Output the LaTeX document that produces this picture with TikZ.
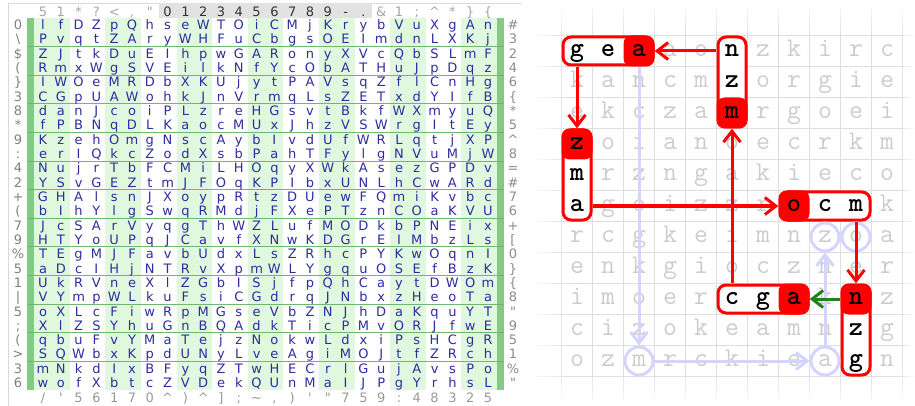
\documentclass[tikz,border=0pt]{standalone}
\usepackage{fontspec}
\newfontfamily\cipherfont{DejaVu Sans}
\usetikzlibrary{arrows.meta,fadings}

\definecolor{cipherink}{RGB}{45,45,160}
\definecolor{stripe}{RGB}{224,248,222}
\definecolor{edgebar}{RGB}{132,202,132}
\definecolor{rowrule}{RGB}{112,184,112}
\definecolor{keyband}{RGB}{226,226,226}
\definecolor{trail}{RGB}{212,212,255}
\definecolor{gridgrey}{RGB}{222,222,222}
\definecolor{dimgrey}{RGB}{204,204,204}
\definecolor{linkgreen}{RGB}{30,130,30}

\tikzfading[name=edgeL, left color=transparent!0, right color=transparent!100]
\tikzfading[name=edgeR, left color=transparent!100, right color=transparent!0]
\tikzfading[name=edgeT, top color=transparent!0, bottom color=transparent!100]
\tikzfading[name=edgeB, top color=transparent!100, bottom color=transparent!0]

\tikzset{
  glyph/.style={font=\cipherfont\fontsize{13}{13}\selectfont, text=cipherink,
    inner sep=0pt, text height=11.2pt, text depth=2pt},
  sidelabel/.style={glyph, text=black!50},
  keymark/.style={glyph, text=black!80},
  dimletter/.style={font=\ttfamily\fontsize{27}{27}\selectfont, text=dimgrey,
    inner sep=0pt, text height=16.5pt, text depth=5pt},
  word/.style={draw=red, line width=3pt, fill=white, rounded corners=8pt},
  cell/.style={font=\ttfamily\bfseries\fontsize{27}{27}\selectfont, inner sep=0pt,
    minimum size=31pt, text height=16.5pt, text depth=5pt},
  hit/.style={cell, fill=red, rounded corners=8pt},
  hop/.style={draw=red, line width=3pt, -{Straight Barb[length=11pt,width=17pt]}},
  ring/.style={circle, draw=trail, line width=3pt, minimum size=28pt, inner sep=0pt},
  trailhop/.style={draw=trail, line width=3pt, -{Straight Barb[length=11pt,width=17pt]}}
}

\begin{document}
\begin{tikzpicture}[x=1pt,y=-1pt]
\useasboundingbox (0,0) rectangle (915,406);

% cipher sheet
\draw[black!15] (8,406) -- (8,3) -- (522,3);
\fill[keyband] (159,3.5) rectangle (372,18.5);
\foreach \p in {0,2,...,12}
  \fill[stripe] ({34.1+35.6*\p},18) rectangle ({69.7+35.6*\p},390);
\fill[edgebar] (27,18) rectangle (34.1,390);
\fill[edgebar] (496.9,18) rectangle (504,390);
\foreach \k in {0,...,11}
  \draw[rowrule, line width=1pt] (27,{25+14.32*(2*\k+1.5)}) -- (504,{25+14.32*(2*\k+1.5)});

\foreach \keych [count=\j from 0] in {5,1,*,?,<,{,},\textquotedbl}
  \node[sidelabel, text=black!35] (top\j) at ({43+17.8*\j},12) {\keych};
\foreach \keych [count=\j from 7] in {0,1,2,3,4,5,6,7,8,9,-,{.}}
  \node[keymark] (top\j) at ({43+17.8*\j},12) {\keych};
\foreach \keych [count=\j from 19] in {\&,1,;,\textasciicircum,*,\},\{}
  \node[sidelabel, text=black!35] (top\j) at ({43+17.8*\j},12) {\keych};

\foreach \keych [count=\i from 0] in {0,\textbackslash,\$,{(},\},3,8,*,9,:,4,2,+,{(},7,9,\%,5,1,\textbar,5,;,{(},>,3,6}
  \node[sidelabel] (lft\i) at (18,{25+14.32*\i}) {\keych};
\foreach \keych [count=\i from 0] in {\#,3,2,4,6,\{,*,5,\textasciicircum,8,=,\#,7,6,+,{[},0,\},\{,8,\textquotedbl,9,5,1,\%,\textquotedbl}
  \node[sidelabel, text=black!45] (rgt\i) at (513,{25+14.32*\i}) {\keych};
\foreach \keych [count=\j from 0] in {{/},\textquotesingle,5,6,1,7,0,\textasciicircum,{)},\textasciicircum,{]},;,\textasciitilde,{,},{)},\textquotesingle,\textquotedbl,7,5,9,:,4,8,3,2,5}
  \node[sidelabel, text=black!40] (bot\j) at ({43+17.8*\j},398) {\keych};

\foreach \rowtext [count=\i from 0] in {
  {l,f,D,Z,p,Q,h,s,e,W,T,O,i,C,M,j,K,r,y,b,V,u,X,g,A,n},
  {P,v,q,t,Z,A,r,y,W,H,F,u,C,b,g,s,O,E,I,m,d,n,L,X,K,j},
  {Z,J,t,k,D,u,E,I,h,p,w,G,A,R,o,n,y,X,V,c,Q,b,S,L,m,F},
  {R,m,x,W,g,S,V,E,i,l,k,N,f,Y,c,O,b,A,T,H,u,J,p,D,q,z},
  {I,W,O,e,M,R,D,b,X,K,U,j,y,t,P,A,V,s,q,Z,f,l,C,n,H,g},
  {C,G,p,U,A,W,o,h,k,J,n,V,r,m,q,L,s,Z,E,T,x,d,Y,I,f,B},
  {d,a,n,J,c,o,i,P,L,z,r,e,H,G,s,v,t,B,k,f,W,X,m,y,u,Q},
  {f,P,B,N,q,D,L,K,a,o,c,M,U,x,J,h,z,V,S,W,r,g,I,t,E,y},
  {K,z,e,h,O,m,g,N,s,c,A,y,b,I,v,d,U,f,W,R,L,q,t,j,X,P},
  {e,r,I,Q,k,c,Z,o,d,X,s,b,P,a,h,T,F,y,l,g,N,V,u,M,j,W},
  {N,u,j,r,T,b,F,C,M,i,L,H,O,q,y,X,W,k,A,s,e,z,G,P,D,v},
  {Y,S,v,G,E,Z,t,m,J,F,O,q,K,P,I,b,x,U,N,L,h,C,w,A,R,d},
  {G,H,A,l,s,n,J,X,o,y,p,R,t,z,D,U,e,w,F,Q,m,i,K,v,b,c},
  {b,I,h,Y,l,g,S,w,q,R,M,d,j,F,X,e,P,T,z,n,C,O,a,K,V,U},
  {J,c,S,A,r,V,y,q,g,T,h,W,Z,L,u,f,M,O,D,k,b,P,N,E,i,x},
  {H,T,Y,o,U,P,q,J,C,a,v,f,X,N,w,K,D,G,r,E,I,M,b,z,L,s},
  {T,E,g,M,J,F,a,v,b,U,d,x,L,s,Z,R,h,c,P,Y,K,w,O,q,n,I},
  {a,D,c,I,H,j,N,T,R,v,X,p,m,W,L,Y,g,q,u,O,S,E,f,B,z,K},
  {U,k,R,V,n,e,X,l,Z,G,b,I,S,j,f,p,Q,h,C,a,y,t,D,W,O,m},
  {V,Y,m,p,W,L,k,u,F,s,i,C,G,d,r,q,J,N,b,x,z,H,e,o,T,a},
  {o,X,L,c,F,i,w,R,p,M,G,s,e,V,b,Z,N,J,h,D,a,K,q,u,Y,T},
  {X,l,Z,S,Y,h,u,G,n,B,Q,A,d,k,T,i,c,P,M,v,O,R,J,f,w,E},
  {q,b,u,F,v,Y,M,a,T,e,j,z,N,o,k,w,L,d,x,i,P,s,H,C,g,R},
  {S,Q,W,b,x,K,p,d,U,N,y,L,v,e,A,g,i,M,O,J,t,f,Z,R,c,h},
  {m,N,k,d,I,x,B,F,y,q,Z,T,w,H,E,C,r,l,G,u,j,A,v,s,P,o},
  {w,o,f,X,b,t,c,Z,V,D,e,k,Q,U,n,M,a,I,J,P,g,Y,r,h,s,L}}
  \foreach \ch [count=\j from 0] in \rowtext
    \node[glyph] (c\i-\j) at ({43+17.8*\j},{25+14.32*\i}) {\ch};

% word search
\foreach \k in {0,...,11} {
  \draw[gridgrey] ({561.5+31*\k},0) -- ({561.5+31*\k},406);
  \draw[gridgrey] (530,{35.5+31*\k}) -- (915,{35.5+31*\k});
}
\fill[white, path fading=edgeL] (530,0) rectangle (568,406);
\fill[white, path fading=edgeR] (900,0) rectangle (915,406);
\fill[white, path fading=edgeT] (530,0) rectangle (915,36);
\fill[white, path fading=edgeB] (530,372) rectangle (915,406);

\foreach \rowtext [count=\i from 0] in {
  {g,e,a,a,o,n,z,k,i,r,c},
  {k,a,n,c,m,z,o,r,g,i,e},
  {e,k,c,z,a,m,r,g,o,e,i},
  {z,o,i,a,n,o,e,c,r,k,m},
  {m,r,z,n,g,a,k,i,e,c,o},
  {a,g,o,i,z,z,r,o,c,m,k},
  {r,c,g,k,e,i,m,n,z,o,a},
  {e,n,k,g,i,o,c,z,n,e,r},
  {i,m,o,e,r,c,g,a,k,n,z},
  {c,i,z,o,k,e,a,m,n,z,g},
  {o,z,m,r,c,k,i,e,a,g,n}}
  \foreach \ch [count=\j from 0] in \rowtext
    \node[dimletter] (d\i-\j) at ({577+31*\j},{51+31*\i}) {\ch};

\node[word, minimum width=90pt, minimum height=28pt] (gea) at (608,51) {};
\node[cell] (gea-g) at (577,51) {g};
\node[cell] (gea-e) at (608,51) {e};
\node[hit] (gea-a) at (639,51) {a};

\node[word, minimum width=28pt, minimum height=90pt] (nzm) at (732,82) {};
\node[cell] (nzm-n) at (732,51) {n};
\node[cell] (nzm-z) at (732,82) {z};
\node[hit] (nzm-m) at (732,113) {m};

\node[word, minimum width=28pt, minimum height=90pt] (zma) at (577,175) {};
\node[hit] (zma-z) at (577,144) {z};
\node[cell] (zma-m) at (577,175) {m};
\node[cell] (zma-a) at (577,206) {a};

\node[word, minimum width=90pt, minimum height=28pt] (ocm) at (825,206) {};
\node[hit] (ocm-o) at (794,206) {o};
\node[cell] (ocm-c) at (825,206) {c};
\node[cell] (ocm-m) at (856,206) {m};

\node[word, minimum width=28pt, minimum height=90pt] (nzg) at (856,330) {};
\node[hit] (nzg-n) at (856,299) {n};
\node[cell] (nzg-z) at (856,330) {z};
\node[cell] (nzg-g) at (856,361) {g};

\node[word, minimum width=90pt, minimum height=28pt] (cga) at (763,299) {};
\node[cell] (cga-c) at (732,299) {c};
\node[cell] (cga-g) at (763,299) {g};
\node[hit] (cga-a) at (794,299) {a};

% faint trail
\node[ring] (ring-m) at (639,361) {};
\node[ring] (ring-a) at (825,361) {};
\node[ring] (ring-z) at (825,237) {};
\node[ring] (ring-o) at (856,237) {};
\draw[trailhop] (gea-a.south) -- (ring-m.north);
\draw[trailhop] (ring-m.east) -- (ring-a.west);
\draw[trailhop] (ring-a.north) -- (ring-z.south);

% red chain
\draw[hop] (nzm-n.west) -- (gea-a.east);
\draw[hop] (gea-g.south) -- (zma-z.north);
\draw[hop] (zma-a.east) -- (ocm-o.west);
\draw[hop] (ocm-m.south) -- (nzg-n.north);
\draw[hop, draw=linkgreen] (nzg-n.west) -- (cga-a.east);
\draw[hop] (cga-c.north) -- (nzm-m.south);
\end{tikzpicture}
\end{document}
